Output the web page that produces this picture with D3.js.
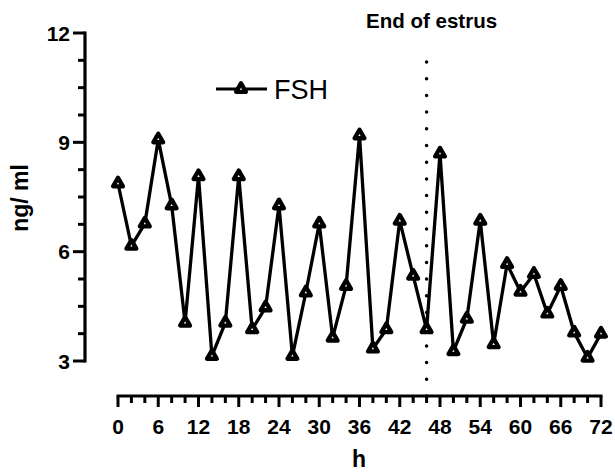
<!DOCTYPE html>
<html><head><meta charset="utf-8">
<script src="https://cdn.jsdelivr.net/npm/d3@7"></script>
<style>body{margin:0;background:#fff}svg{display:block}text{font-family:"Liberation Sans",Arial,sans-serif}</style>
</head><body>
<script>
const hours = d3.range(0, 73, 2);
const fsh = [7.87, 6.16, 6.77, 9.08, 7.27, 4.05, 8.07, 3.14, 4.05, 8.07, 3.87, 4.47, 7.27, 3.14, 4.88, 6.77, 3.64, 5.06,
             9.19, 3.34, 3.87, 6.85, 5.34, 3.87, 8.69, 3.27, 4.16, 6.85, 3.46, 5.66, 4.90, 5.39, 4.30, 5.06, 3.78, 3.09, 3.75];
const xTicks = d3.range(0, 73, 6);
const yTicks = [3, 6, 9, 12];
const estrusEnd = 46;

const W = 615, H = 472;
const svg = d3.select("body").append("svg").attr("width", W).attr("height", H);
const x = d3.scaleLinear().domain([0, 72]).range([118, 601]);
const y = d3.scaleLinear().domain([3, 12]).range([361, 33]);

// Y axis
const yAx = svg.append("g").attr("transform", "translate(85,0)");
yAx.append("line").attr("y1", y(12) - 1.5).attr("y2", y(3) + 1.5).attr("stroke", "#000").attr("stroke-width", 3.2);
yAx.selectAll(".ymin").data(d3.range(3, 12.01, 0.75)).join("line")
  .attr("x1", d => yTicks.includes(d) ? -12 : -7).attr("x2", 0)
  .attr("y1", d => y(d)).attr("y2", d => y(d)).attr("stroke", "#000").attr("stroke-width", 3);
yAx.selectAll(".ylab").data(yTicks).join("text")
  .attr("x", -15).attr("y", d => y(d)).attr("dy", "0.36em").attr("text-anchor", "end")
  .attr("font-size", 21).attr("font-weight", "bold").text(d => d);

// X axis
const xAx = svg.append("g").attr("transform", "translate(0,396)");
xAx.append("line").attr("x1", x(0) - 1.5).attr("x2", x(72) + 1.5).attr("stroke", "#000").attr("stroke-width", 3.2);
xAx.selectAll(".xmin").data(d3.range(0, 73, 2)).join("line")
  .attr("x1", d => x(d)).attr("x2", d => x(d)).attr("y1", 0)
  .attr("y2", d => d % 6 === 0 ? 11 : 7).attr("stroke", "#000").attr("stroke-width", 3);
xAx.selectAll(".xlab").data(xTicks).join("text")
  .attr("x", d => x(d)).attr("y", 38).attr("text-anchor", "middle")
  .attr("font-size", 21).attr("font-weight", "bold").text(d => d);

svg.append("text").attr("x", 359).attr("y", 467).attr("text-anchor", "middle")
  .attr("font-size", 23).attr("font-weight", "bold").text("h");
svg.append("text").attr("transform", "translate(28,198) rotate(-90)").attr("text-anchor", "middle")
  .attr("font-size", 23).attr("font-weight", "bold").text("ng/ ml");

// dotted line
svg.append("line").attr("x1", x(estrusEnd)).attr("x2", x(estrusEnd)).attr("y1", 396).attr("y2", 47)
  .attr("stroke", "#000").attr("stroke-width", 3.5).attr("stroke-linecap", "round").attr("stroke-dasharray", "0,16.7");
svg.append("text").attr("x", x(estrusEnd) + 5).attr("y", 28).attr("text-anchor", "middle")
  .attr("font-size", 20.5).attr("font-weight", "bold").text("End of estrus");

// line
const data = hours.map((h, i) => ({h, v: fsh[i]}));
svg.append("path").datum(data).attr("fill", "none").attr("stroke", "#000").attr("stroke-width", 3.3)
  .attr("stroke-linejoin", "miter").attr("d", d3.line().x(d => x(d.h)).y(d => y(d.v)));
const tri = d3.symbol().type(d3.symbolTriangle).size(42);
svg.selectAll(".pt").data(data).join("path")
  .attr("transform", d => `translate(${x(d.h)},${y(d.v)})`).attr("d", tri)
  .attr("fill", "#fff").attr("stroke", "#000").attr("stroke-width", 4.3).attr("stroke-linejoin", "round");

// legend
svg.append("line").attr("x1", 216).attr("x2", 267).attr("y1", 89).attr("y2", 89).attr("stroke", "#000").attr("stroke-width", 3);
svg.append("path").attr("transform", "translate(241,89)").attr("d", tri)
  .attr("fill", "#fff").attr("stroke", "#000").attr("stroke-width", 4.3).attr("stroke-linejoin", "round");
svg.append("text").attr("x", 274).attr("y", 99).attr("font-size", 27).text("FSH");
</script>
</body></html>
